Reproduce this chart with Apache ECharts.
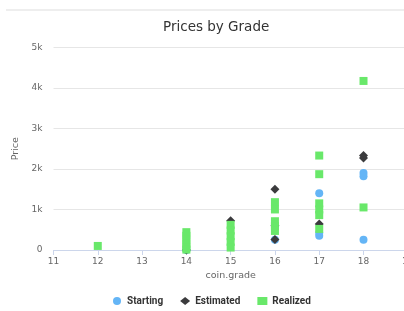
<!DOCTYPE html>
<html>
<head>
<meta charset="utf-8">
<script src="https://cdn.jsdelivr.net/npm/echarts@6/dist/echarts.min.js"></script>
<style>html,body{margin:0;padding:0;background:#fff}#c{width:404px;height:311px}</style>
</head>
<body>
<div id="c"></div>
<script>
const xTicks = [11, 12, 13, 14, 15, 16, 17, 18, 19];
const yTicks = [0, 1000, 2000, 3000, 4000, 5000];
const startingGrades = [14, 16, 16, 17, 17, 17, 18, 18, 18];
const startingPrices = [0, 600, 250, 1400, 420, 350, 1900, 1820, 250];
const estimatedGrades = [14, 15, 16, 16, 16, 17, 18, 18];
const estimatedPrices = [0, 720, 1500, 600, 260, 640, 2330, 2270];
const realizedGrades = [12, 14, 14, 14, 14, 14, 14, 15, 15, 15, 15, 15, 16, 16, 16, 16, 16, 17, 17, 17, 17, 17, 17, 18, 18];
const realizedPrices = [100, 440, 350, 250, 150, 60, 10, 620, 480, 340, 200, 60, 1180, 1000, 710, 590, 470, 2330, 1870, 1150, 1000, 860, 520, 4170, 1050];

const pairs = (xs, ys) => xs.map((x, i) => [x, ys[i]]);
const FONT = 'DejaVu Sans';
const chart = echarts.init(document.getElementById('c'), null, {renderer: 'canvas'});
chart.setOption({
  animation: false,
  backgroundColor: '#fff',
  textStyle: {fontFamily: FONT},
  title: {
    text: 'Prices by Grade', left: 158, top: 15,
    textStyle: {fontFamily: FONT, fontSize: 13.5, fontWeight: 'normal', color: '#333'}
  },
  graphic: [{type: 'line', shape: {x1: 6, y1: 10, x2: 404, y2: 10}, style: {stroke: '#eeeeee', lineWidth: 2}}],
  legend: {
    top: 291, left: 108, itemGap: 17, itemWidth: 10, itemHeight: 8,
    textStyle: {fontFamily: 'Roboto', fontSize: 10, fontWeight: 'bold', color: '#333'},
    data: [{name: 'Starting', icon: 'circle'}, {name: 'Estimated', icon: 'diamond'}, {name: 'Realized', icon: 'rect'}]
  },
  grid: {left: 53.5, width: 354.3, top: 47.3, height: 202.7, containLabel: false, outerBoundsMode: 'none'},
  xAxis: {
    type: 'value', min: xTicks[0], max: xTicks[xTicks.length - 1], interval: 1,
    name: 'coin.grade', nameLocation: 'middle', nameGap: 21,
    nameTextStyle: {fontFamily: FONT, fontSize: 9.5, color: '#666'},
    axisLine: {show: true, lineStyle: {color: '#ccd6eb'}},
    axisTick: {show: true, length: 5, lineStyle: {color: '#ccd6eb'}},
    axisLabel: {fontFamily: FONT, fontSize: 9, color: '#666', margin: 7},
    splitLine: {show: false}
  },
  yAxis: {
    type: 'value', min: yTicks[0], max: yTicks[yTicks.length - 1], interval: 1000,
    name: 'Price', nameLocation: 'middle', nameGap: 27, nameRotate: 90,
    nameTextStyle: {fontFamily: FONT, fontSize: 9.5, color: '#666'},
    axisLine: {show: false}, axisTick: {show: false},
    axisLabel: {fontFamily: FONT, fontSize: 9, color: '#666', margin: 11,
      formatter: v => v === 0 ? '0' : (v / 1000) + 'k'},
    splitLine: {lineStyle: {color: '#e6e6e6'}}
  },
  series: [
    {name: 'Starting', type: 'scatter', symbol: 'circle', symbolSize: 8,
      itemStyle: {color: '#64b5f6', opacity: 1}, data: pairs(startingGrades, startingPrices)},
    {name: 'Estimated', type: 'scatter', symbol: 'diamond', symbolSize: 9,
      itemStyle: {color: '#3b3b3d', opacity: 1}, data: pairs(estimatedGrades, estimatedPrices)},
    {name: 'Realized', type: 'scatter', symbol: 'rect', symbolSize: 8,
      itemStyle: {color: '#69e86a', opacity: 1}, data: pairs(realizedGrades, realizedPrices)}
  ]
});
</script>
</body>
</html>
